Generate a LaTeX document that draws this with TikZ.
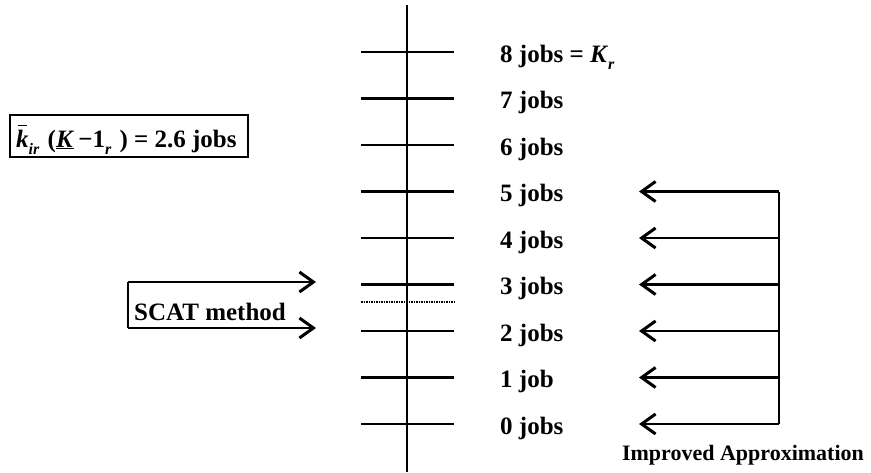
\documentclass[tikz,border=0pt]{standalone}
\usepackage{fontspec}
\setmainfont{Liberation Serif}
\usetikzlibrary{arrows.meta}
\newcommand{\subit}[1]{\raisebox{-0.28em}{\fontsize{16}{16}\selectfont\itshape #1}}
\begin{document}
\begin{tikzpicture}[x=1pt,y=-1pt,
  lbl/.style={anchor=base west,inner sep=0pt,font=\fontsize{25}{28}\selectfont\bfseries},
  heavy/.style={line width=2.6pt},
  arr/.style={line width=2.6pt,-{Straight Barb[length=14pt,width=20pt,line width=3pt]}},
  dotline/.style={line width=1.2pt,dash pattern=on 1.5pt off 1pt}]
\useasboundingbox (0,0) rectangle (871,472);
% axis
\coordinate (atop) at (407,5);
\coordinate (abot) at (407,472);
\draw[heavy] (atop) -- (abot);
% ticks
\foreach \i in {0,...,8}{
  \coordinate (tl\i) at (361,424-46.5*\i);
  \coordinate (tr\i) at (454,424-46.5*\i);
  \draw[heavy] (tl\i) -- (tr\i);
}
\foreach \i in {0,2,3,4,5,6,7}{
  \node[lbl] (l\i) at (500,434-46.5*\i) {\i\ jobs};
}
\node[lbl] (l1) at (500,434-46.5) {1 job};
\node[lbl] (l8) at (500,434-46.5*8) {8 jobs = \textit{K}\subit{r}};
% dotted line
\coordinate (dl) at (361,302);
\coordinate (dr) at (454,302);
\draw[dotline] (dl) -- (dr);
% right arrows
\foreach \i in {0,...,5}{
  \coordinate (r\i) at (779,424-46.5*\i);
  \coordinate (h\i) at (639,424-46.5*\i);
  \draw[arr] (r\i) -- (h\i);
}
\draw[heavy] (r5) -- (r0);
\node[lbl,anchor=base,font=\fontsize{22}{26}\selectfont\bfseries] (impr) at (743,460) {Improved Approximation};
% SCAT
\coordinate (s1) at (128,282);
\coordinate (s1e) at (316,282);
\coordinate (s2) at (128,328);
\coordinate (s2e) at (316,328);
\draw[heavy] (s1) -- (s2);
\draw[arr] (s1) -- (s1e);
\draw[arr] (s2) -- (s2e);
\node[lbl,font=\fontsize{25}{28}\selectfont\bfseries] (scat) at (134,320) {SCAT method};
% top-left box
\draw[heavy] (10,115) rectangle (248,157);
\node[lbl,font=\fontsize{25}{28}\selectfont\bfseries] (kbox) at (16,147)
  {\rlap{\hspace{0.06em}\raisebox{0.84em}{\rule{0.36em}{1.4pt}}}\textit{k}\subit{ir}\,\,(\underline{\textit{K}}\,−1\subit{r}\,\,) = 2.6 jobs};
\end{tikzpicture}
\end{document}
